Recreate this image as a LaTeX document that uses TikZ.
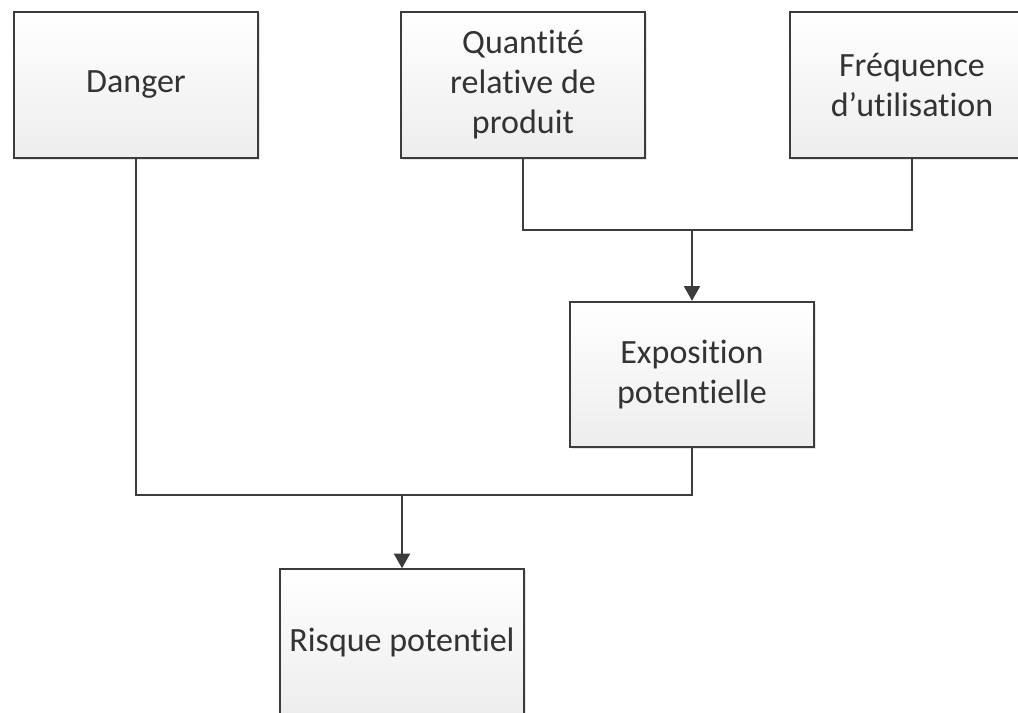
\documentclass[tikz,border=0pt]{standalone}
\usepackage{fontspec}
\setmainfont{Carlito}[Ligatures={NoCommon}]
\usetikzlibrary{arrows.meta,shadows}
\definecolor{boxline}{HTML}{3C3C3C}
\definecolor{txt}{HTML}{333333}
\begin{document}
\begin{tikzpicture}[x=0.75pt,y=-0.75pt,
  box/.style={draw=boxline,line width=1.6pt,top color=white,bottom color=black!7,
    minimum width=183pt,minimum height=109pt,inner sep=0pt,align=center,text=txt,
    font=\fontsize{25.5}{30}\selectfont,
    drop shadow={shadow xshift=1.5pt,shadow yshift=-1.5pt,opacity=0.25,fill=black!40}},
  link/.style={draw=boxline,line width=1.5pt},
  arr/.style={link,-{Triangle[length=11pt,width=12pt]}}]
\useasboundingbox (0,0) rectangle (1018,713);
\clip (0,0) rectangle (1018,713);
\fill[white] (0,0) rectangle (1018,713);
\node[box] (danger) at (136,85) {Danger};
\node[box] (quant) at (523,85) {Quantité\\relative de\\produit};
\node[box] (freq) at (912,85) {Fréquence\\d’utilisation};
\node[box] (expo) at (692,374.5) {Exposition\\potentielle};
\node[box] (risk) at (402,642) {Risque potentiel};
\coordinate (j1) at (692,230);
\coordinate (j2) at (402,495);
\draw[link] (quant.south) |- (j1);
\draw[link] (freq.south) |- (j1);
\draw[arr] (j1) -- (expo.north);
\draw[link] (danger.south) |- (j2);
\draw[link] (expo.south) |- (j2);
\draw[arr] (j2) -- (risk.north);
\end{tikzpicture}
\end{document}
